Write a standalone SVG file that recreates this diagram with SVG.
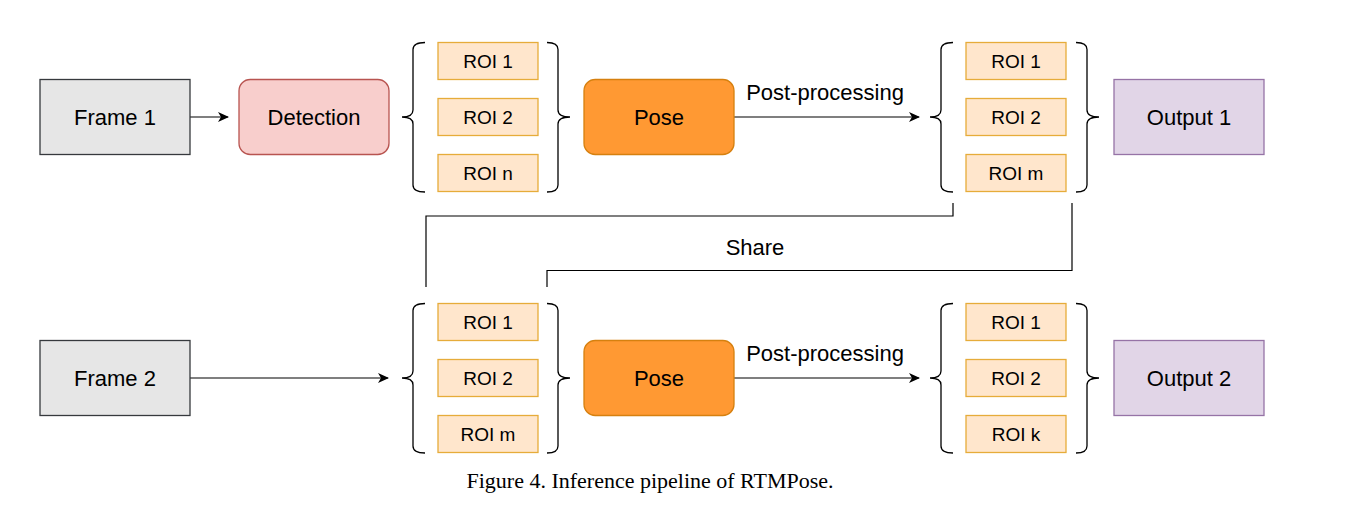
<svg xmlns="http://www.w3.org/2000/svg" width="1361" height="510" viewBox="0 0 1361 510">
<style>
text{font-family:"Liberation Sans",Arial,sans-serif;fill:#000;text-anchor:middle}
.t{font-size:22px}
.r{font-size:19px}
.frame{fill:#e6e6e6;stroke:#36393d;stroke-width:1.3}
.det{fill:#f8cecc;stroke:#b85450;stroke-width:1.3}
.pose{fill:#ff9933;stroke:#d6800f;stroke-width:1.3}
.out{fill:#e1d5e7;stroke:#9673a6;stroke-width:1.3}
.roi{fill:#ffe6cc;stroke:#e6ac3a;stroke-width:1.3}
.br{fill:none;stroke:#000;stroke-width:1.3}
.ln{fill:none;stroke:#000;stroke-width:1.2}
.cap{font-family:"Liberation Serif","Times New Roman",serif;font-size:22px}
</style>
<defs>
<marker id="ah" markerWidth="12" markerHeight="10" refX="10" refY="5" orient="auto" markerUnits="userSpaceOnUse">
<path d="M0,0 L11,5 L0,10 L3,5 z" fill="#000"/>
</marker>
<path id="lb" d="M23,0 Q11,0 11,7 L11,67.5 Q11,74.5 0,74.5 Q11,74.5 11,81.5 L11,142.5 Q11,149.5 23,149.5"/>
<path id="rb" d="M0,0 Q11,0 11,7 L11,67.5 Q11,74.5 23,74.5 Q11,74.5 11,81.5 L11,142.5 Q11,149.5 0,149.5"/>
</defs>
<g id="connectors">
<path class="ln" d="M190,117 L228,117" marker-end="url(#ah)"/>
<path class="ln" d="M734,117 L919,117" marker-end="url(#ah)"/>
<text class="t" x="825" y="100">Post-processing</text>
<path class="ln" d="M190,378 L388,378" marker-end="url(#ah)"/>
<path class="ln" d="M734,378 L919,378" marker-end="url(#ah)"/>
<text class="t" x="825" y="361">Post-processing</text>
<path class="ln" d="M426,287 L426,216 L953,216 L953,203"/>
<path class="ln" d="M1072,203 L1072,270.5 L547,270.5 L547,287"/>
<text class="t" x="755" y="255">Share</text>
</g>
<g id="frame1"><rect class="frame" x="40" y="79.5" width="150" height="75"/><text class="t" x="115" y="125">Frame 1</text></g>
<g id="detection"><rect class="det" x="239" y="79.5" width="150" height="75" rx="11.25"/><text class="t" x="314" y="125">Detection</text></g>
<g id="rois1">
<use href="#lb" class="br" x="402" y="42.5"/>
<rect class="roi" x="438" y="42.5" width="100" height="37"/><text class="r" x="488" y="68">ROI 1</text>
<rect class="roi" x="438" y="98.5" width="100" height="37"/><text class="r" x="488" y="124">ROI 2</text>
<rect class="roi" x="438" y="154.5" width="100" height="37"/><text class="r" x="488" y="180">ROI n</text>
<use href="#rb" class="br" x="547" y="42.5"/>
</g>
<g id="pose1"><rect class="pose" x="584" y="79.5" width="150" height="75" rx="11.25"/><text class="t" x="659" y="125">Pose</text></g>
<g id="rois1out">
<use href="#lb" class="br" x="930" y="42.5"/>
<rect class="roi" x="966" y="42.5" width="100" height="37"/><text class="r" x="1016" y="68">ROI 1</text>
<rect class="roi" x="966" y="98.5" width="100" height="37"/><text class="r" x="1016" y="124">ROI 2</text>
<rect class="roi" x="966" y="154.5" width="100" height="37"/><text class="r" x="1016" y="180">ROI m</text>
<use href="#rb" class="br" x="1076" y="42.5"/>
</g>
<g id="output1"><rect class="out" x="1114" y="79.5" width="150" height="75"/><text class="t" x="1189" y="125">Output 1</text></g>
<g id="frame2"><rect class="frame" x="40" y="340.5" width="150" height="75"/><text class="t" x="115" y="386">Frame 2</text></g>
<g id="rois2">
<use href="#lb" class="br" x="402" y="303.5"/>
<rect class="roi" x="438" y="303.5" width="100" height="37"/><text class="r" x="488" y="329">ROI 1</text>
<rect class="roi" x="438" y="359.5" width="100" height="37"/><text class="r" x="488" y="385">ROI 2</text>
<rect class="roi" x="438" y="415.5" width="100" height="37"/><text class="r" x="488" y="441">ROI m</text>
<use href="#rb" class="br" x="547" y="303.5"/>
</g>
<g id="pose2"><rect class="pose" x="584" y="340.5" width="150" height="75" rx="11.25"/><text class="t" x="659" y="386">Pose</text></g>
<g id="rois2out">
<use href="#lb" class="br" x="930" y="303.5"/>
<rect class="roi" x="966" y="303.5" width="100" height="37"/><text class="r" x="1016" y="329">ROI 1</text>
<rect class="roi" x="966" y="359.5" width="100" height="37"/><text class="r" x="1016" y="385">ROI 2</text>
<rect class="roi" x="966" y="415.5" width="100" height="37"/><text class="r" x="1016" y="441">ROI k</text>
<use href="#rb" class="br" x="1076" y="303.5"/>
</g>
<g id="output2"><rect class="out" x="1114" y="340.5" width="150" height="75"/><text class="t" x="1189" y="386">Output 2</text></g>
<text class="cap" x="650" y="488">Figure 4. Inference pipeline of RTMPose.</text>
</svg>
